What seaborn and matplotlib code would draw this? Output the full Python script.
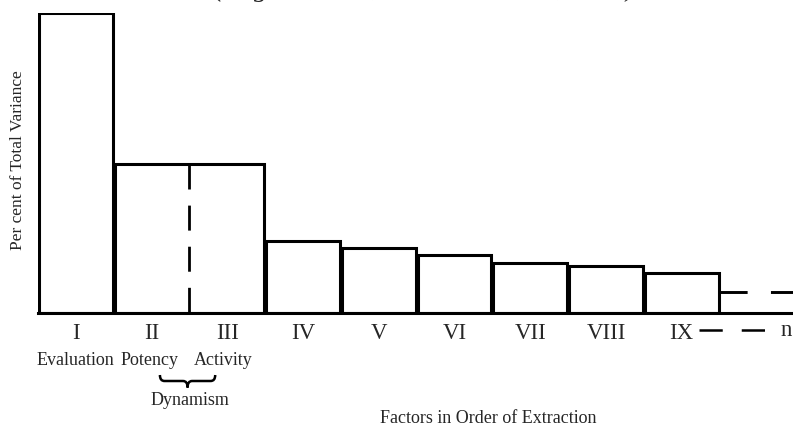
import matplotlib
matplotlib.use("Agg")
import matplotlib.pyplot as plt
import matplotlib.transforms as mtransforms
from matplotlib.path import Path
from matplotlib.patches import PathPatch
import seaborn as sns
import pandas as pd

# ---- data ----
factors = ["I", "II", "III", "IV", "V", "VI", "VII", "VIII", "IX"]
variance = [30.0, 14.9, 14.9, 7.2, 6.5, 5.8, 5.0, 4.7, 4.0]
tail_value = 2.1
factor_names = ["Evaluation", "Potency", "Activity"]
merged_label = "Dynamism"
tail_label = "n"
title_text = "(Osgood, Suci, & Tannenbaum, 1957)"
ylabel = "Per cent of Total Variance"
xlabel = "Factors in Order of Extraction"

sns.set_theme(style="white")
plt.rcParams["font.family"] = ["Liberation Serif", "DejaVu Serif"]

df = pd.DataFrame({"factor": factors, "variance": variance})

W, H = 793, 427
fig = plt.figure(figsize=(W / 100, H / 100), dpi=100)
ax = fig.add_axes([38 / W, (H - 313.5) / H, 1 - 38 / W, 299.5 / H])

sns.barplot(data=df, x="factor", y="variance", order=factors, ax=ax,
            color="white", edgecolor="black", linewidth=2.2, width=0.975,
            saturation=1)

# merge bars II and III into one box with a dashed divider
patches = ax.patches
p2, p3 = patches[1], patches[2]
p2.set_width(p3.get_x() + p3.get_width() - p2.get_x())
p3.set_visible(False)
ax.plot([1.5, 1.5], [variance[1], 0], color="black", lw=2,
        dashes=(9, 5.8), solid_capstyle="butt")

ax.set_ylim(0, variance[0])
ax.set_xlim(-0.5, 9.47)

# dashed tail continuing after IX
ax.plot([8.5, 9.47], [tail_value, tail_value], color="black", lw=2.1,
        dashes=(9.3, 8), clip_on=False)

for s in ["top", "right", "left"]:
    ax.spines[s].set_visible(False)
ax.spines["bottom"].set_linewidth(2.2)
ax.spines["bottom"].set_color("black")
ax.set_yticks([])
ax.set_ylabel("")
ax.set_xlabel("")
ax.tick_params(axis="x", length=0, pad=6.5, labelsize=16.5)
ax.set_xticks(range(len(factors)))
ax.set_xticklabels(factors)

blend = mtransforms.blended_transform_factory(ax.transData, ax.transAxes)
def ay(px):
    return (313.5 - px) / 299.5

# "— — n" after IX
ax.plot([8.23, 9.15], [ay(331), ay(331)], transform=blend, color="black",
        lw=1.8, dashes=(9.3, 7.6), clip_on=False)
ax.text(9.38, ay(331), tail_label, transform=blend, ha="center", va="center",
        fontsize=16.5, clip_on=False)

# factor names
for xpos, name in zip([0, 0.97, 1.95], factor_names):
    ax.text(xpos, ay(361), name, transform=blend, ha="center", va="center",
            fontsize=13)

# curly brace
xl, xr, xc = 1.11, 1.84, 1.475
ya, ym, yt = ay(376), ay(382), ay(388.5)
d = 0.06
verts = [(xl, ya), (xl, ym), (xl + d, ym), (xc - d, ym), (xc, ym), (xc, yt),
         (xc, ym), (xc + d, ym), (xr - d, ym), (xr, ym), (xr, ya)]
codes = [Path.MOVETO, Path.CURVE3, Path.CURVE3, Path.LINETO, Path.CURVE3,
         Path.CURVE3, Path.CURVE3, Path.CURVE3, Path.LINETO, Path.CURVE3,
         Path.CURVE3]
ax.add_patch(PathPatch(Path(verts, codes), transform=blend, fill=False,
                       lw=1.8, edgecolor="black", clip_on=False))
ax.text(1.5, ay(401), merged_label, transform=blend, ha="center",
        va="center", fontsize=13)

fig.text(18 / W, (H - 160) / H, ylabel, rotation=90, ha="center",
         va="center", fontsize=12.5)
fig.text(488 / W, (H - 419) / H, xlabel, ha="center", va="center",
         fontsize=13)
# title sits above the top edge; only its descenders show, as in the reference
fig.text(425 / W, (H + 4.5) / H, title_text, ha="center", va="baseline",
         fontsize=20, style="italic")

fig.savefig("out.png", dpi=100)
